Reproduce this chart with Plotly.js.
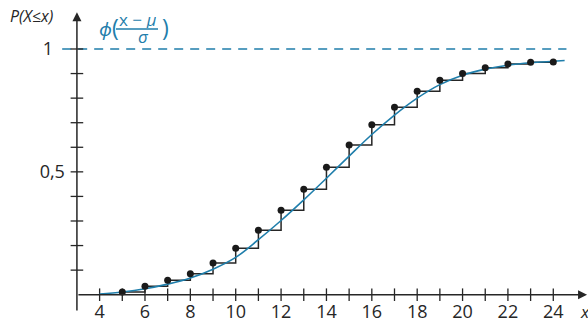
<!DOCTYPE html>
<html>
<head>
<meta charset="utf-8">
<script src="https://cdn.plot.ly/plotly-3.0.1.min.js"></script>
<style>html,body{margin:0;padding:0;background:#fff;}#chart{width:588px;height:322px;}</style>
</head>
<body>
<div id="chart"></div>
<script>
// ---- data ----
const stepX = [5, 6, 7, 8, 9, 10, 11, 12, 13, 14, 15, 16, 17, 18, 19, 20, 21, 22, 23, 24];
const stepY = [0.011, 0.034, 0.059, 0.085, 0.129, 0.189, 0.262, 0.344, 0.429, 0.519,
               0.609, 0.692, 0.763, 0.828, 0.873, 0.900, 0.924, 0.939, 0.946, 0.947];
const curveX = [4, 5, 6, 7, 8, 9, 10, 11, 12, 13, 14, 15, 16, 17, 18, 19, 20, 21, 22, 23, 24, 24.5];
const curveY = [0.003, 0.011, 0.024, 0.043, 0.068, 0.104, 0.152, 0.224, 0.302, 0.386, 0.474,
                0.564, 0.652, 0.731, 0.800, 0.855, 0.893, 0.918, 0.934, 0.944, 0.950, 0.953];
const limitY = 1;
const xTickVals = [4, 6, 8, 10, 12, 14, 16, 18, 20, 22, 24];
const yTickVals = [0.5, 1];
const yTickText = ['0,5', '1\u2002\u2009'];
const yLabel = 'P(X≤x)';
const xLabel = 'x';

// ---- layout geometry ----
const W = 588, H = 322;
const xr = [-0.391, 25.530];
const yr = [-0.1111, 1.1994];
const axisX = 3;          // position of the vertical axis
const xAxisEnd = 25.49, yAxisEnd = 1.15, yAxisStart = -0.07;
const blue = '#1f7eab';
const ink = '#262626';
const font = 'Open Sans, Noto Sans, sans-serif';

const px2paperX = p => p / W;
const px2paperY = p => 1 - p / H;

// tick marks (crossing ticks)
const xMinor = [], yMinor = [];
for (let v = 4; v <= 24; v++) xMinor.push(v);
for (let k = 1; k <= 10; k++) yMinor.push(k / 10);

const traces = [
  { x: [2.35, 24.58], y: [limitY, limitY], mode: 'lines',
    line: { color: blue, width: 1.5, dash: '9px,7px' }, hoverinfo: 'skip' },
  { x: xMinor, y: xMinor.map(() => 0), mode: 'markers',
    marker: { symbol: 'line-ns', size: 9, line: { color: ink, width: 1.3 } }, hoverinfo: 'skip' },
  { x: yMinor.map(() => axisX), y: yMinor, mode: 'markers',
    marker: { symbol: 'line-ew', size: 9, line: { color: ink, width: 1.3 } }, hoverinfo: 'skip' },
  { x: stepX, y: stepY, mode: 'lines', line: { shape: 'hv', color: ink, width: 1.5 } },
  { x: curveX, y: curveY, mode: 'lines', line: { shape: 'spline', color: blue, width: 1.6 } },
  { x: stepX, y: stepY, mode: 'markers', marker: { color: '#1a1a1a', size: 7 } }
];

const annotations = [
  // axes with arrowheads
  { x: xAxisEnd, y: 0, ax: axisX, ay: 0, xref: 'x', yref: 'y', axref: 'x', ayref: 'y',
    text: '', showarrow: true, arrowhead: 2, arrowsize: 1.2, arrowwidth: 1.5, arrowcolor: ink, standoff: 0 },
  { x: axisX, y: yAxisEnd, ax: axisX, ay: yAxisStart, xref: 'x', yref: 'y', axref: 'x', ayref: 'y',
    text: '', showarrow: true, arrowhead: 2, arrowsize: 1.2, arrowwidth: 1.5, arrowcolor: ink, standoff: 0 },
  // axis titles
  { xref: 'paper', yref: 'paper', x: px2paperX(31), y: px2paperY(16), text: '<i>' + yLabel + '</i>',
    showarrow: false, xanchor: 'center', yanchor: 'middle', font: { family: font, size: 16, color: ink } },
  { xref: 'paper', yref: 'paper', x: px2paperX(585), y: px2paperY(311), text: '<i>' + xLabel + '</i>',
    showarrow: false, xanchor: 'center', yanchor: 'middle', font: { family: font, size: 17, color: ink } },
  // formula phi((x-mu)/sigma)
  { xref: 'paper', yref: 'paper', x: px2paperX(97), y: px2paperY(27), text: '<i>ϕ</i><span style="font-size:23px">(</span>',
    showarrow: false, xanchor: 'left', yanchor: 'middle', font: { family: font, size: 19, color: blue } },
  { xref: 'paper', yref: 'paper', x: px2paperX(137), y: px2paperY(19.5), text: 'x − <i>μ</i>', height: 17,
    showarrow: false, xanchor: 'center', yanchor: 'middle', font: { family: font, size: 17, color: blue } },
  { xref: 'paper', yref: 'paper', x: px2paperX(143), y: px2paperY(36.5), text: '<i>σ</i>', height: 14,
    showarrow: false, xanchor: 'center', yanchor: 'middle', font: { family: font, size: 17, color: blue } },
  { xref: 'paper', yref: 'paper', x: px2paperX(160), y: px2paperY(27), text: ')',
    showarrow: false, xanchor: 'left', yanchor: 'middle', font: { family: font, size: 23, color: blue } }
];

const shapes = [
  { type: 'line', xref: 'paper', yref: 'paper', x0: px2paperX(116), x1: px2paperX(158),
    y0: px2paperY(29), y1: px2paperY(29), line: { color: blue, width: 1.3 } }
];

const layout = {
  width: W, height: H,
  margin: { l: 0, r: 0, t: 0, b: 0, pad: 0 },
  paper_bgcolor: '#fff', plot_bgcolor: '#fff',
  showlegend: false,
  separators: ',.',
  font: { family: font, color: ink },
  xaxis: {
    range: xr, anchor: 'free', position: (0 - yr[0]) / (yr[1] - yr[0]),
    tickmode: 'array', tickvals: xTickVals, ticks: '', showline: false, showgrid: false, zeroline: false,
    ticklabelstandoff: 4,
    tickfont: { family: font, size: 18, color: ink }, fixedrange: true
  },
  yaxis: {
    range: yr, anchor: 'free', position: (axisX - xr[0]) / (xr[1] - xr[0]),
    tickmode: 'array', tickvals: yTickVals, ticktext: yTickText, ticks: '', showline: false, showgrid: false, zeroline: false,
    ticklabelstandoff: 12,
    tickfont: { family: font, size: 18, color: ink }, fixedrange: true
  },
  annotations: annotations,
  shapes: shapes
};

Plotly.newPlot('chart', traces, layout, { displayModeBar: false, staticPlot: true });
</script>
</body>
</html>
